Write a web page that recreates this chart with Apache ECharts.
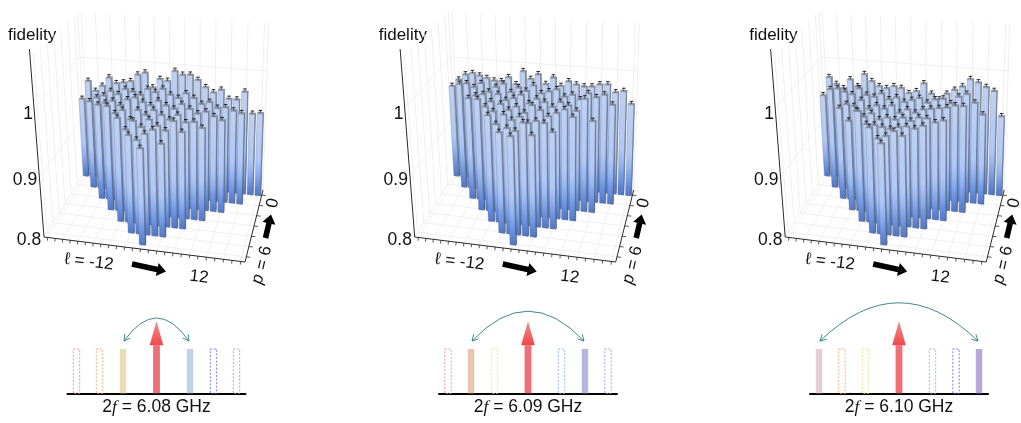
<!DOCTYPE html>
<html>
<head>
<meta charset="utf-8">
<style>
  html, body { margin: 0; padding: 0; background: #fff; }
  #main { width: 1021px; height: 423px; }
</style>
<script src="https://cdn.jsdelivr.net/npm/echarts@6/dist/echarts.min.js"></script>
</head>
<body>
<div id="main"></div>
<script>
// fidelity per row, rows are p = 0..6, each row runs over l with 2p + |l| <= 12
const fidA = [
  [.940,.970,.955,.964,.978,.970,.972,.975,.986,.990,.968,.982,.980,.996,.991,.992,.985,.975,.968,.973,.960,.960,.973,.940,.942],
  [.951,.958,.962,.970,.966,.975,.972,.968,.978,.974,.980,.972,.968,.976,.970,.962,.966,.958,.960,.956,.953],
  [.960,.964,.968,.962,.972,.976,.970,.966,.974,.968,.964,.972,.966,.960,.964,.958,.953],
  [.972,.962,.968,.955,.970,.964,.972,.966,.960,.968,.958,.960,.952],
  [.968,.952,.966,.958,.970,.962,.956,.971,.956],
  [.957,.951,.961,.968,.949],
  [.952]
];
const fidB = [
  [.961,.972,.981,.984,.981,.978,.975,.975,.982,.972,.993,.982,.990,.976,.987,.975,.983,.979,.977,.978,.982,.983,.972,.975,.956],
  [.978,.980,.975,.982,.970,.978,.984,.972,.980,.976,.985,.974,.978,.982,.972,.976,.970,.980,.975,.980,.966],
  [.970,.975,.978,.968,.980,.972,.976,.982,.970,.978,.974,.968,.976,.972,.965,.984,.952],
  [.982,.972,.966,.978,.970,.976,.968,.980,.974,.966,.972,.978,.968],
  [.972,.960,.975,.968,.974,.966,.970,.968,.956],
  [.961,.968,.965,.978,.961],
  [.969]
];
const fidC = [
  [.946,.976,.966,.960,.975,.965,.985,.975,.968,.966,.970,.968,.961,.965,.978,.963,.955,.965,.972,.978,.990,.986,.980,.975,.937],
  [.970,.972,.968,.965,.975,.966,.964,.970,.962,.966,.960,.964,.968,.962,.968,.970,.964,.975,.980,.968,.951],
  [.955,.962,.960,.970,.958,.964,.960,.966,.956,.962,.958,.964,.966,.968,.970,.974,.974],
  [.950,.966,.958,.964,.956,.960,.958,.962,.958,.964,.964,.959,.963],
  [.978,.960,.960,.958,.956,.960,.962,.960,.965],
  [.968,.953,.958,.966,.960],
  [.959]
];
const fidErr = 0.004;

const lTicks = [-12,-11,-10,-9,-8,-7,-6,-5,-4,-3,-2,-1,0,1,2,3,4,5,6,7,8,9,10,11,12];
const pTicks = [0,1,2,3,4,5,6];
const fTicks = [0.9, 1];

// spectrum under each panel
const tones = [-80,-57,-33.5,0,33.5,57,80];
const toneColors = ['#e89090','#f2a878','#f0dc80','#e85c5c','#90b0f0','#7070f0','#b090e8'];
const solidColors = ['#e6cfd0','#ecc6aa','#e9dfb6','#000','#c2d0e6','#b6b6dc','#b9a6d8'];
const pumpedTones = [[2,4],[1,5],[0,6]];
const arcApex = [0.807,0.88,0.97];
const pumpLabels = ['6.08','6.09','6.10'];

const panelDx = [0, 370.7, 741.2];
const specLeft = [67.5, 439, 810];

// corners of the box, front/back, left/right, at f = 0.8 and at f = 1
const cFL0=[44,237], cFR0=[245,262], cBL0=[86,170], cBR0=[263,190];
const cFL1=[34,108], cFR1=[248,127], cBL1=[80,57],  cBR1=[267,71];

function mix(a,b,t){ return [a[0]+(b[0]-a[0])*t, a[1]+(b[1]-a[1])*t]; }
function uOf(l){ const u=(l+12.5)/25; return u*(0.92+0.08*u); }
function vOf(p){ return (6.5-p)/7; }
function wOf(f){ const t=(f-0.8)/0.2; return t*(0.86+0.14*t); }
function box(u,v,w,dx){
  const b=mix(mix(cFL0,cFR0,u),mix(cBL0,cBR0,u),v);
  const h=mix(mix(cFL1,cFR1,u),mix(cBL1,cBR1,u),v);
  return [b[0]+(h[0]-b[0])*w+dx, b[1]+(h[1]-b[1])*w];
}

const barFront=[
  {offset:0,color:'#4f74c4'},{offset:.12,color:'#668edb'},{offset:.3,color:'#94b4f0'},
  {offset:.45,color:'#afc8f7'},{offset:1,color:'#bfd0f2'}];
const barSide=[
  {offset:0,color:'#40598f'},{offset:.25,color:'#667ca8'},{offset:1,color:'#8c94a4'}];

function barItem(dx){
  return function(params,api){
    const l=api.value(0), p=api.value(1), f=api.value(2);
    const dl=.37, dp=.1;
    const P=(a,b,c)=>api.coord(box(uOf(a),vOf(b),c,dx));
    const w=wOf(f);
    const a0=P(l-dl,p+dp,0), b0=P(l+dl,p+dp,0), c0=P(l+dl,p-dp,0);
    const a1=P(l-dl,p+dp,w), b1=P(l+dl,p+dp,w), c1=P(l+dl,p-dp,w), d1=P(l-dl,p-dp,w);
    const t0=P(l,p,w), t1=P(l,p,wOf(f+fidErr));
    return {type:'group',children:[
      {type:'polygon',shape:{points:[a0,b0,b1,a1]},style:{
        fill:new echarts.graphic.LinearGradient(0,1,0,0,barFront),
        stroke:'rgba(100,110,135,.5)',lineWidth:.6}},
      {type:'polygon',shape:{points:[b0,c0,c1,b1]},style:{
        fill:new echarts.graphic.LinearGradient(0,1,0,0,barSide),
        stroke:'rgba(85,95,115,.65)',lineWidth:.6}},
      {type:'polygon',shape:{points:[a1,b1,c1,d1]},style:{fill:'#8b92a2',stroke:'#7c8392',lineWidth:.3}},
      {type:'line',shape:{x1:t0[0],y1:t0[1],x2:t1[0],y2:t1[1]},style:{stroke:'#222',lineWidth:.7}},
      {type:'line',shape:{x1:t1[0]-1.8,y1:t1[1],x2:t1[0]+1.8,y2:t1[1]},style:{stroke:'#111',lineWidth:.9}}
    ]};
  };
}

function barRows(rows){
  const out=[];
  rows.forEach((row,p)=>{
    const lMax=12-2*p;
    row.forEach((f,i)=>out.push([i-lMax,p,f]));
  });
  return out;
}

// light grid on floor and the two walls, then the dark axes
function frameItem(dx){
  return function(params,api){
    const kids=[];
    const seg=(a,b,col,lw)=>{
      const s=api.coord(a), e=api.coord(b);
      kids.push({type:'line',shape:{x1:s[0],y1:s[1],x2:e[0],y2:e[1]},style:{stroke:col,lineWidth:lw}});
    };
    const grid='#ececec', top=1.4;
    lTicks.forEach(l=>{
      if(l%2) return;
      const u=uOf(l);
      seg(box(u,0,0,dx),box(u,1,0,dx),grid,.8);
      seg(box(u,1,0,dx),box(u,1,top,dx),grid,.8);
    });
    pTicks.forEach(p=>{
      const v=vOf(p);
      seg(box(0,v,0,dx),box(1,v,0,dx),grid,.8);
      seg(box(0,v,0,dx),box(0,v,top,dx),grid,.8);
    });
    fTicks.forEach(f=>{
      const w=wOf(f);
      seg(box(0,0,w,dx),box(0,1,w,dx),grid,.8);
      seg(box(0,1,w,dx),box(1,1,w,dx),grid,.8);
    });
    seg(box(0,0,0,dx),box(0,1,0,dx),grid,.9);
    seg(box(0,1,0,dx),box(1,1,0,dx),grid,.9);
    seg(box(0,1,0,dx),box(0,1,top,dx),grid,.9);
    seg(box(1,1,0,dx),box(1,1,top,dx),grid,.9);
    const ink='#2a2a2a';
    seg(box(0,0,0,dx),box(0,0,1.457,dx),ink,1);
    seg(box(0,0,0,dx),box(1,0,0,dx),ink,1);
    seg(box(1,0,0,dx),box(1,1,0,dx),ink,1);
    lTicks.forEach(l=>{
      const a=box(uOf(l),0,0,dx);
      seg(a,[a[0]-.4,a[1]+3.2],ink,.8);
    });
    pTicks.forEach(p=>{
      const a=box(1,vOf(p),0,dx);
      seg(a,[a[0]+4,a[1]+.4],ink,.8);
    });
    return {type:'group',children:kids};
  };
}

// a fat black direction arrow
function fatArrow(a,b,dx){
  const ang=Math.atan2(b[1]-a[1],b[0]-a[0]);
  const n=[-Math.sin(ang),Math.cos(ang)], t=[Math.cos(ang),Math.sin(ang)];
  const hw=2.8, hh=6.6, hl=9;
  const neck=[b[0]-t[0]*hl,b[1]-t[1]*hl];
  const pts=[
    [a[0]+n[0]*hw,a[1]+n[1]*hw],[neck[0]+n[0]*hw,neck[1]+n[1]*hw],[neck[0]+n[0]*hh,neck[1]+n[1]*hh],
    b,[neck[0]-n[0]*hh,neck[1]-n[1]*hh],[neck[0]-n[0]*hw,neck[1]-n[1]*hw],[a[0]-n[0]*hw,a[1]-n[1]*hw]
  ].map(q=>[q[0]+dx,q[1]]);
  return {type:'polygon',silent:true,shape:{points:pts},style:{fill:'#000'}};
}

const sans='"Liberation Sans", Arial, sans-serif';
function label(txt,x,y,size,align,rot,italic){
  return {type:'text',silent:true,x:x,y:y,rotation:rot||0,originX:0,originY:0,style:{
    text:txt,fill:'#111',font:(italic?'italic ':'')+size+'px '+sans,
    textAlign:align||'center',textVerticalAlign:'middle'}};
}

const graphics=[];
panelDx.forEach(dx=>{
  graphics.push(label('fidelity',8+dx,35,17,'left'));
  graphics.push(label('1',28+dx,114,17.5,'center'));
  graphics.push(label('0.9',25+dx,180,17.5,'center'));
  graphics.push(label('0.8',29+dx,240,17.5,'center'));
  graphics.push(label('\u2113 = -12',89+dx,262,17,'center',-0.12));
  graphics.push(label('12',199+dx,277,17,'center',-0.12));
  graphics.push(label('0',273+dx,203,17,'center',1.35));
  graphics.push(label('p',258+dx,279,17,'center',1.35,true));
  graphics.push(label('= 6',264+dx,258,17,'center',1.35));
  graphics.push(fatArrow([132,264],[166,271.5],dx));
  graphics.push(fatArrow([265.5,238],[271,214.5],dx));
});

// spectrum bars, dashed when idle and filled when pumped
function toneItem(idx){
  return function(params,api){
    const i=api.value(0);
    const base=api.coord([tones[i],0]);
    const top=api.coord([tones[i],0.475]);
    const hw=3.2;
    if(i===3) return null;
    const on=pumpedTones[idx].indexOf(i)>=0;
    return {type:'rect',shape:{x:base[0]-hw,y:top[1],width:hw*2,height:base[1]-top[1]},style:on
      ?{fill:solidColors[i]}
      :{fill:'none',stroke:toneColors[i],lineWidth:.9,lineDash:[2,1.6]}};
  };
}

function pumpItem(params,api){
  const base=api.coord([0,0]), neck=api.coord([0,0.515]), tip=api.coord([0,0.775]);
  const x=base[0];
  return {type:'group',children:[
    {type:'rect',shape:{x:x-3.4,y:neck[1],width:6.8,height:base[1]-neck[1]},style:{fill:'#ee7076'}},
    {type:'polygon',shape:{points:[[x-6.8,neck[1]],[x+6.8,neck[1]],[x,tip[1]]]},style:{
      fill:new echarts.graphic.LinearGradient(0,1,0,0,[{offset:0,color:'#f04848'},{offset:1,color:'#f49090'}])}}
  ]};
}

function arcItem(idx){
  return function(params,api){
    const pair=pumpedTones[idx];
    const a=api.coord([tones[pair[0]]+1,0.56]), b=api.coord([tones[pair[1]]-1,0.56]);
    const apex=api.coord([0,arcApex[idx]]);
    const cx=(a[0]+b[0])/2, cy=2*apex[1]-a[1];
    const col='#3e8a88', kids=[
      {type:'bezierCurve',shape:{x1:a[0],y1:a[1],x2:b[0],y2:b[1],cpx1:cx,cpy1:cy},style:{stroke:col,fill:'none',lineWidth:1}}
    ];
    [a,b].forEach(e=>{
      const ang=Math.atan2(cy-e[1],cx-e[0]);
      [0.5,-0.5].forEach(d=>{
        kids.push({type:'line',shape:{x1:e[0],y1:e[1],x2:e[0]+7*Math.cos(ang+d),y2:e[1]+7*Math.sin(ang+d)},
          style:{stroke:col,lineWidth:1}});
      });
    });
    return {type:'group',children:kids};
  };
}

const grids=[{left:0,top:0,width:1021,height:423}];
const xAxes=[{type:'value',min:0,max:1021,show:false}];
const yAxes=[{type:'value',min:0,max:423,inverse:true,show:false}];
const series=[];

[fidA,fidB,fidC].forEach((rows,i)=>{
  series.push({type:'custom',coordinateSystem:'cartesian2d',xAxisIndex:0,yAxisIndex:0,silent:true,clip:false,
    data:[[0]],renderItem:frameItem(panelDx[i])});
  series.push({type:'custom',coordinateSystem:'cartesian2d',xAxisIndex:0,yAxisIndex:0,silent:true,clip:false,
    encode:{x:0,y:1},data:barRows(rows),renderItem:barItem(panelDx[i])});
});

specLeft.forEach((left,i)=>{
  const k=i+1;
  grids.push({left:left,top:300,width:178,height:93.3});
  xAxes.push({type:'value',gridIndex:k,min:-89,max:89,
    axisLine:{show:true,onZero:false,lineStyle:{color:'#000',width:2}},axisTick:{show:false},axisLabel:{show:false},splitLine:{show:false},
    name:'{n|2}{i|f}{n| = '+pumpLabels[i]+' GHz}',nameLocation:'middle',nameGap:5,
    nameTextStyle:{rich:{
      n:{fontFamily:sans,fontSize:17.5,color:'#111'},
      i:{fontFamily:'"Liberation Serif", serif',fontStyle:'italic',fontSize:17.5,color:'#111'}}}});
  yAxes.push({type:'value',gridIndex:k,min:0,max:1,show:false});
  series.push({type:'custom',xAxisIndex:k,yAxisIndex:k,silent:true,clip:false,data:tones.map((t,j)=>[j]),
    encode:{x:0},renderItem:toneItem(i)});
  series.push({type:'custom',xAxisIndex:k,yAxisIndex:k,silent:true,clip:false,data:[[0]],renderItem:pumpItem});
  series.push({type:'custom',xAxisIndex:k,yAxisIndex:k,silent:true,clip:false,data:[[0]],renderItem:arcItem(i)});
});

const chart=echarts.init(document.getElementById('main'),null,{renderer:'canvas'});
chart.setOption({
  animation:false,
  backgroundColor:'#fff',
  grid:grids,xAxis:xAxes,yAxis:yAxes,series:series,
  graphic:{elements:graphics}
});
</script>
</body>
</html>
